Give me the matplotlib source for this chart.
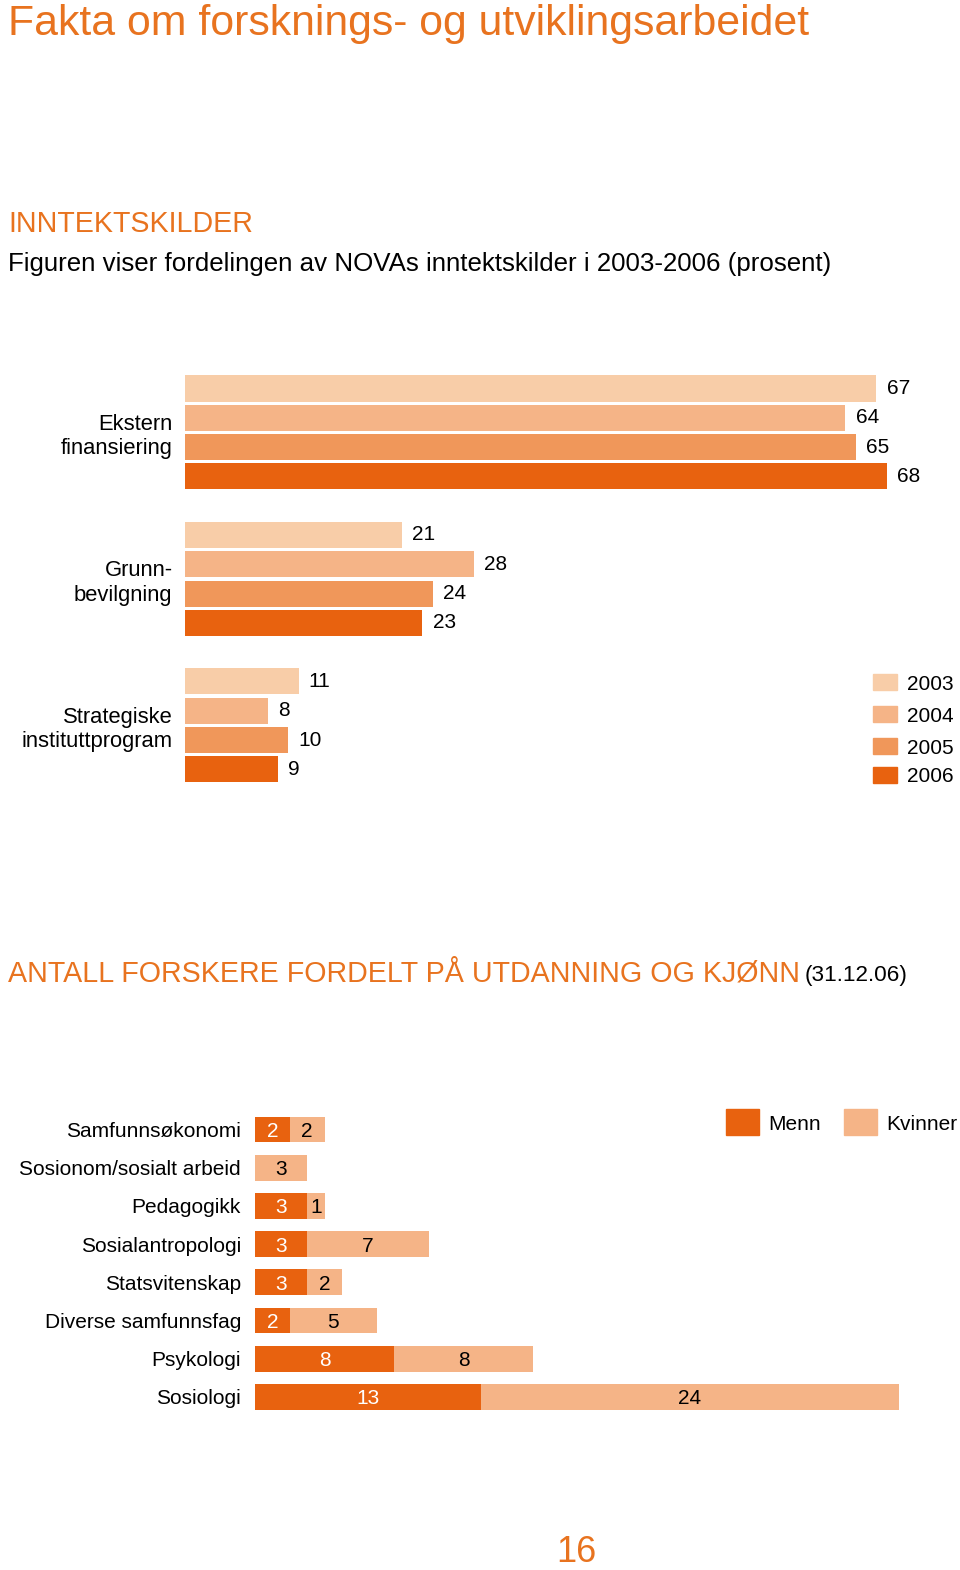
import matplotlib
matplotlib.use('Agg')
import matplotlib.pyplot as plt
from matplotlib.patches import Rectangle

plt.rcParams['font.family'] = ['Liberation Sans', 'DejaVu Sans']

W, H = 960, 1570

# inntektskilder, prosent
sources = ['Ekstern\nfinansiering', 'Grunn-\nbevilgning', 'Strategiske\ninstituttprogram']
years = ['2003', '2004', '2005', '2006']
share_2003 = [67, 21, 11]
share_2004 = [64, 28, 8]
share_2005 = [65, 24, 10]
share_2006 = [68, 23, 9]
year_colors = ['#F8CDA8', '#F5B487', '#F0975A', '#E8620F']

# forskere etter utdanning og kjønn
fields = ['Samfunnsøkonomi', 'Sosionom/sosialt arbeid', 'Pedagogikk', 'Sosialantropologi',
          'Statsvitenskap', 'Diverse samfunnsfag', 'Psykologi', 'Sosiologi']
menn = [2, 0, 3, 3, 3, 2, 8, 13]
kvinner = [2, 3, 1, 7, 2, 5, 8, 24]
gender_labels = ['Menn', 'Kvinner']
gender_colors = ['#E8620F', '#F5B487']

orange = '#E8731F'


def box(x0, y0, x1, y1):
    # pixel box -> figure coords
    return [x0 / W, 1 - y1 / H, (x1 - x0) / W, (y1 - y0) / H]


def fx(px):
    return px / W


def fy(py):
    return 1 - py / H


fig = plt.figure(figsize=(W / 100, H / 100), dpi=100)

# headings
fig.text(fx(8), fy(35), 'Fakta om forsknings- og utviklingsarbeidet', color=orange,
         fontsize=30.8, va='baseline')
fig.text(fx(8), fy(232), 'INNTEKTSKILDER', color=orange, fontsize=20.6, va='baseline')
fig.text(fx(8), fy(271), 'Figuren viser fordelingen av NOVAs inntektskilder i 2003-2006 (prosent)',
         color='black', fontsize=18.6, va='baseline')
fig.text(fx(8), fy(981), 'ANTALL FORSKERE FORDELT PÅ UTDANNING OG KJØNN', color=orange,
         fontsize=20.6, va='baseline')
fig.text(fx(805), fy(981), '(31.12.06)', color='black', fontsize=16.2, va='baseline')
fig.text(fx(576), fy(1562), '16', color=orange, fontsize=26, ha='center', va='baseline')

# --- inntektskilder ---
ax = fig.add_axes(box(185, 373.85, 960, 784))
all_shares = [share_2003, share_2004, share_2005, share_2006]
for j, vals in enumerate(all_shares):
    ys = [g * 5 + j for g in range(len(sources))]
    ax.barh(ys, vals, height=0.89, color=year_colors[j])
    for y, v in zip(ys, vals):
        ax.text(v + 1.0, y, str(v), va='center', ha='left', fontsize=15)
ax.set_xlim(0, 775 / 10.32)
ax.set_ylim(13.5, -0.5)
ax.set_yticks([g * 5 + 1.5 for g in range(len(sources))])
ax.set_yticklabels(sources, fontsize=15.8, linespacing=1.2)
ax.tick_params(axis='y', length=0, pad=9)
ax.set_xticks([])
for s in ax.spines.values():
    s.set_visible(False)

# legend (years)
for j, yr in enumerate(years):
    cy = [682, 714, 746, 775][j]
    fig.add_artist(Rectangle((fx(873), fy(cy + 8)), 24 / W, 16 / H,
                             transform=fig.transFigure, color=year_colors[j]))
    fig.text(fx(907), fy(cy + 2), yr, fontsize=15, va='center')

# --- forskere ---
ax2 = fig.add_axes(box(255, 1110.4, 960, 1416.0))
ys = list(range(len(fields)))
ax2.barh(ys, menn, height=0.68, color=gender_colors[0])
ax2.barh(ys, kvinner, left=menn, height=0.68, color=gender_colors[1])
for y, m, k in zip(ys, menn, kvinner):
    if m > 0:
        ax2.text(m / 2, y + 0.05, str(m), ha='center', va='center', color='white', fontsize=15)
    if k > 0:
        ax2.text(m + k / 2, y + 0.05, str(k), ha='center', va='center', color='black', fontsize=15)
ax2.set_xlim(0, 705 / 17.4)
ax2.set_ylim(7.5, -0.5)
ax2.set_yticks(ys)
ax2.set_yticklabels(fields, fontsize=15)
ax2.tick_params(axis='y', length=0, pad=10)
ax2.set_xticks([])
for s in ax2.spines.values():
    s.set_visible(False)

# legend (kjønn)
for i, lab in enumerate(gender_labels):
    x0 = [726, 844][i]
    fig.add_artist(Rectangle((fx(x0), fy(1135)), 33 / W, 26 / H,
                             transform=fig.transFigure, color=gender_colors[i]))
    fig.text(fx(x0 + 42), fy(1124), lab, fontsize=15, va='center')

fig.savefig('out.png', dpi=100)
